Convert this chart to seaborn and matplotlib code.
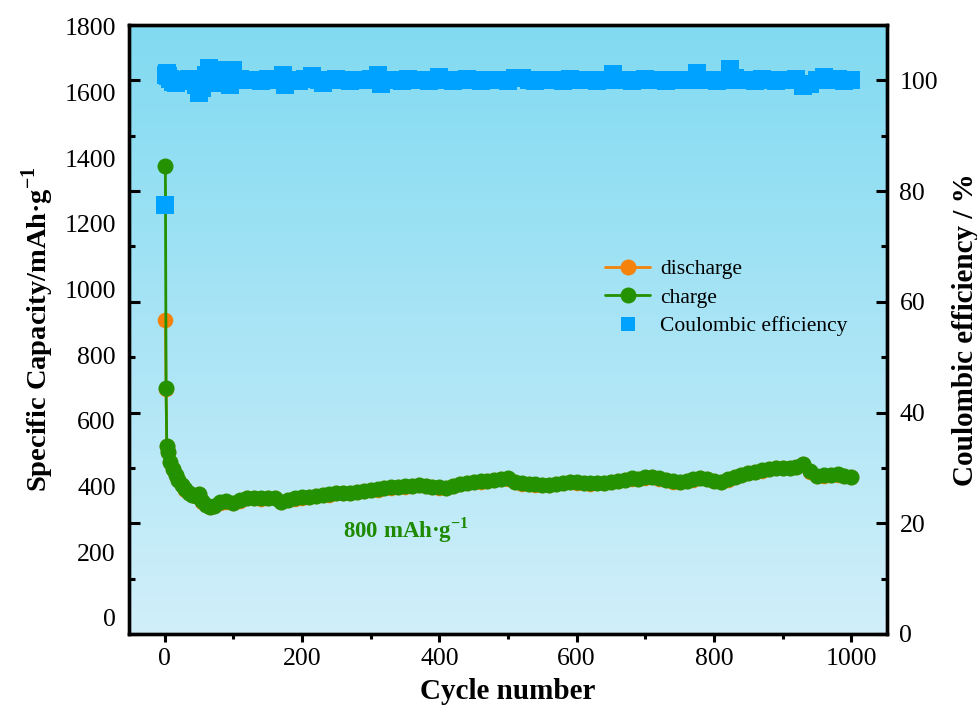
import numpy as np
import pandas as pd
import matplotlib
matplotlib.use("Agg")
import matplotlib.pyplot as plt
from matplotlib.ticker import MultipleLocator
from matplotlib.lines import Line2D
import seaborn as sns

sns.set_style("ticks")
plt.rcParams['font.family'] = ['Liberation Serif', 'DejaVu Serif']
plt.rcParams['mathtext.fontset'] = 'custom'
plt.rcParams['mathtext.rm'] = 'Liberation Serif'
plt.rcParams['mathtext.bf'] = 'Liberation Serif:bold'
for k in ['text.color', 'axes.labelcolor', 'xtick.color', 'ytick.color', 'axes.edgecolor']:
    plt.rcParams[k] = 'black'

# ---------------- data ----------------
cycles = [1, 2, 3, 5, 8, 12, 16, 20, 25, 30, 35, 40, 45, 50, 55, 60, 66, 72, 80, 90,
          100, 110, 120, 130, 140, 150, 160, 170, 180, 190, 200, 210, 220, 230, 240,
          250, 260, 270, 280, 290, 300, 310, 320, 330, 340, 350, 360, 370, 380, 390,
          400, 410, 420, 430, 440, 450, 460, 470, 480, 490, 500, 510, 520, 530, 540,
          550, 560, 570, 580, 590, 600, 610, 620, 630, 640, 650, 660, 670, 680, 690,
          700, 710, 720, 730, 740, 750, 760, 770, 780, 790, 800, 810, 820, 830, 840,
          850, 860, 870, 880, 890, 900, 910, 920, 930, 940, 950, 960, 970, 980, 990, 1000]

charge = [1375, 700, 525, 505, 475, 455, 435, 420, 405, 392, 382, 375, 372, 378, 355,
          345, 338, 342, 352, 355, 350, 358, 366, 365, 364, 366, 365, 354, 360, 364,
          367, 368, 372, 375, 376, 380, 381, 382, 385, 388, 390, 392, 396, 398, 399,
          401, 403, 405, 403, 400, 398, 396, 402, 408, 412, 414, 416, 418, 420, 424,
          426, 414, 410, 408, 407, 406, 405, 408, 411, 414, 413, 412, 410, 411, 412,
          414, 418, 421, 425, 424, 428, 430, 425, 420, 416, 414, 418, 422, 426, 424,
          418, 414, 422, 430, 436, 441, 445, 450, 454, 457, 458, 458, 460, 470, 446,
          432, 434, 435, 437, 432, 430]

discharge = [908, 698, 524, 504, 474, 454, 434, 419, 404, 391, 381, 374, 371, 376, 354,
             344, 337, 341, 351, 354, 349, 357, 365, 364, 363, 365, 364, 353, 359, 363,
             366, 367, 371, 374, 375, 379, 380, 381, 384, 387, 389, 391, 395, 397, 398,
             400, 402, 404, 402, 399, 397, 395, 401, 407, 411, 413, 415, 417, 419, 423,
             424, 413, 409, 407, 406, 405, 404, 407, 410, 413, 412, 411, 409, 410, 411,
             413, 417, 420, 424, 423, 427, 429, 424, 419, 415, 413, 417, 421, 425, 423,
             417, 413, 421, 429, 435, 440, 444, 449, 453, 456, 457, 457, 459, 468, 445,
             431, 433, 434, 436, 431, 429]

ce_cycles = [1, 2, 3, 5, 8, 12, 16, 20, 25, 30, 35, 40, 45, 50, 55, 60, 65, 70, 75, 80,
             85, 90, 95, 100, 110, 120, 130, 140, 150, 160, 172, 175, 185, 195, 205, 215,
             225, 230, 240, 250, 260, 270, 280, 290, 300, 310, 315, 325, 335, 345, 355,
             365, 375, 385, 395, 400, 410, 420, 430, 440, 450, 460, 470, 480, 490, 500,
             510, 520, 530, 540, 550, 560, 570, 580, 590, 600, 610, 620, 630, 640, 653,
             660, 670, 680, 690, 700, 710, 720, 730, 740, 750, 760, 775, 785, 795, 805,
             815, 824, 830, 840, 850, 860, 870, 880, 890, 900, 910, 920, 930, 940, 950,
             960, 970, 980, 990, 1000]

ce = [77.5, 101.0, 101.3, 100.8, 100.2, 99.7, 99.6, 99.8, 100.0, 100.1, 100.3, 100.0,
      99.2, 97.8, 98.6, 101.0, 102.2, 100.5, 99.5, 101.8, 100.9, 100.0, 99.2, 101.9,
      100.2, 100.0, 100.1, 99.9, 100.2, 100.0, 101.0, 99.2, 100.1, 99.9, 100.3, 100.8,
      100.0, 99.6, 100.1, 100.2, 100.0, 99.9, 100.1, 100.0, 100.2, 100.9, 99.3, 100.0,
      100.1, 99.9, 100.2, 100.0, 100.1, 99.9, 100.0, 100.6, 100.1, 99.9, 100.0, 100.2,
      100.0, 99.9, 100.1, 100.0, 100.1, 99.9, 100.5, 100.4, 100.0, 99.9, 100.1, 100.0,
      100.1, 99.9, 100.2, 100.0, 100.0, 100.1, 99.9, 100.0, 101.2, 100.0, 100.1, 99.9,
      100.0, 100.3, 100.0, 100.1, 99.9, 100.0, 100.1, 100.0, 101.3, 100.0, 100.1, 99.9,
      100.0, 102.0, 100.5, 100.0, 100.1, 99.9, 100.2, 100.0, 99.9, 100.1, 100.0, 100.2,
      99.0, 99.3, 100.1, 100.6, 100.0, 100.2, 99.9, 100.0]

x_ticks = [0, 200, 400, 600, 800, 1000]
cap_ticks = [0, 200, 400, 600, 800, 1000, 1200, 1400, 1600, 1800]
ce_ticks = [0, 20, 40, 60, 80, 100]

cap_df = pd.DataFrame({"cycle": cycles, "charge": charge, "discharge": discharge})
ce_df = pd.DataFrame({"cycle": ce_cycles, "ce": ce})

ORANGE = "#F5820A"
GREEN = "#249100"
BLUE = "#00A2FF"
MS = 11.5

# ---------------- figure ----------------
fig = plt.figure(figsize=(9.78, 7.16), dpi=100)
ax = fig.add_axes([129/978, 1 - 634/716, (887-129)/978, (634-25)/716])

# background gradient
top = np.array([129, 218, 241]) / 255
bot = np.array([209, 239, 250]) / 255
t = np.linspace(0, 1, 256)[:, None]
grad = (top[None, :] * (1 - t) + bot[None, :] * t)[:, None, :]
ax.imshow(grad, extent=[0, 1, 0, 1], transform=ax.transAxes, aspect='auto',
          zorder=0, interpolation='bilinear')

sns.lineplot(data=cap_df, x="cycle", y="discharge", ax=ax, color=ORANGE, lw=2,
             marker='o', markersize=MS - 0.3, markeredgewidth=0, label="discharge",
             legend=False, zorder=3, sort=False)
sns.lineplot(data=cap_df, x="cycle", y="charge", ax=ax, color=GREEN, lw=2,
             marker='o', markersize=MS, markeredgewidth=0, label="charge",
             legend=False, zorder=4, sort=False)

ax.set_xlim(-52, 1052)
ax.set_ylim(-49, 1806)
ax.set_xticks(x_ticks)
ax.xaxis.set_minor_locator(MultipleLocator(100))
ax.set_yticks(cap_ticks)
ax.tick_params(axis='x', which='major', direction='out', length=6, width=2.2,
               labelsize=18.5, pad=4, top=False, bottom=True)
ax.tick_params(axis='x', which='minor', direction='out', length=3.5, width=2.2,
               top=False, bottom=True)
ax.tick_params(axis='y', which='both', length=0, labelsize=18.5, pad=9.5)
ax.set_xlabel("Cycle number", fontsize=21, fontweight='bold', labelpad=6)
ax.set_ylabel(r"Specific Capacity/mAh·g$^{\mathbf{-1}}$", fontsize=20.5,
              fontweight='bold', labelpad=6)
for s in ax.spines.values():
    s.set_linewidth(2.4)
    s.set_color('black')
    s.set_zorder(10)

ax.text(259, 268, r"800 mAh·g$^{\mathbf{-1}}$", color="#1E8A00", fontsize=16.5,
        fontweight='bold', ha='left', va='center', zorder=6)

ax2 = ax.twinx()
sns.scatterplot(data=ce_df, x="cycle", y="ce", ax=ax2, color=BLUE, marker='s',
                s=150, linewidth=0, label="Coulombic efficiency", legend=False,
                zorder=5)
ax2.set_ylim(0, 110)
ax2.set_xlim(-52, 1052)
ax2.set_yticks(ce_ticks)
ax2.yaxis.set_minor_locator(MultipleLocator(10))
ax2.tick_params(axis='y', which='major', direction='in', length=8, width=2.2,
                left=True, right=True, labelleft=False, labelright=True,
                labelsize=18.5, pad=9)
ax2.tick_params(axis='y', which='minor', direction='in', length=4, width=2.2,
                left=True, right=True)
ax2.set_ylabel("Coulombic efficiency / %", fontsize=21, fontweight='bold',
               labelpad=10)
for s in ax2.spines.values():
    s.set_linewidth(2.4)
    s.set_color('black')

handles = [
    Line2D([], [], color=ORANGE, lw=2, marker='o', markersize=MS, markeredgewidth=0),
    Line2D([], [], color=GREEN, lw=2, marker='o', markersize=MS, markeredgewidth=0),
    Line2D([], [], color=BLUE, lw=0, marker='s', markersize=10.5, markeredgewidth=0),
]
labels = ["discharge", "charge", "Coulombic efficiency"]
ax2.legend(handles, labels, loc='upper left', bbox_to_anchor=(605/978, 1 - 259/716),
           bbox_transform=fig.transFigure, frameon=False, fontsize=15.5,
           borderpad=0, borderaxespad=0, handlelength=2.1, handletextpad=0.45,
           labelspacing=0.4)

fig.savefig("out.png", dpi=100)
